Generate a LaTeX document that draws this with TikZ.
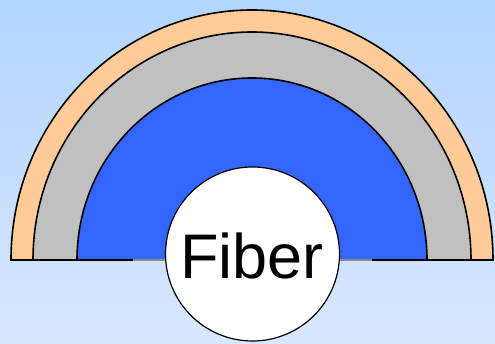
\documentclass[tikz,border=0pt]{standalone}
\usepackage{fontspec}
\setmainfont{Liberation Sans}
\definecolor{bgtop}{HTML}{B3D5FE}
\definecolor{bgbot}{HTML}{D8E7FE}
\definecolor{jacket}{HTML}{FFCC99}
\definecolor{buffer}{HTML}{C0C0C0}
\definecolor{coat}{HTML}{3366FF}
\tikzset{
  layer/.style={draw=black, line width=1.6pt},
  baseline/.style={line width=2pt},
}
\begin{document}
\begin{tikzpicture}[x=1pt,y=1pt]
\useasboundingbox (0,0) rectangle (495,344);
\shade[top color=bgtop, bottom color=bgbot] (0,0) rectangle (495,344);
\coordinate (c) at (252,84);
% outer jacket
\draw[layer, fill=jacket] (11,84) arc[start angle=180, end angle=0, x radius=241, y radius=250] -- cycle;
% buffer
\draw[layer, fill=buffer] (33,84) arc[start angle=180, end angle=0, x radius=219, y radius=228] -- cycle;
% coating
\fill[coat] (77,84) arc[start angle=180, end angle=0, x radius=175, y radius=182] -- cycle;
\draw[layer] (77,84) arc[start angle=180, end angle=0, x radius=175, y radius=182];
% base line
\coordinate (bl) at (11,84);
\coordinate (bm1) at (133,84);
\coordinate (bm2) at (372,84);
\coordinate (br) at (493,84);
\draw[baseline, black!45] (bm1) -- (bm2);
\draw[baseline] (bl) -- (bm1);
\draw[baseline] (bm2) -- (br);
% fiber
\node[circle, draw=black, line width=1.2pt, fill=white, minimum size=174pt, inner sep=0pt] (fiber) at (252.5,90) {};
\node[anchor=base, font=\fontsize{63}{63}\selectfont, inner sep=0pt] (label) at (252,65) {Fiber};
\end{tikzpicture}
\end{document}
